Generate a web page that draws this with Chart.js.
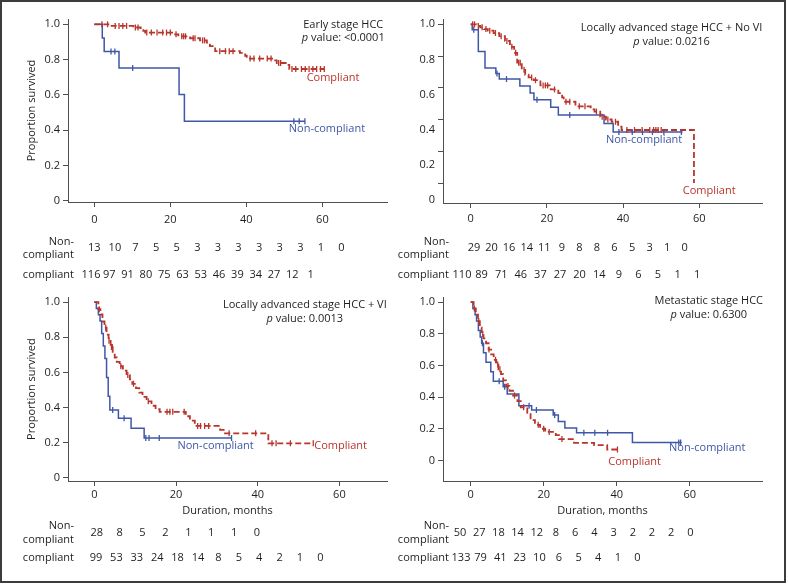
<!DOCTYPE html>
<html lang="en">
<head>
<meta charset="UTF-8">
<title>Survival by compliance, four HCC stages</title>
<script src="https://cdn.jsdelivr.net/npm/chart.js@4.4.0/dist/chart.umd.min.js"></script>
<style>
  body { margin: 0; background: #fff; }
  #figure { position: relative; width: 788px; height: 585px; }
  #figure canvas { position: absolute; }
  #frame { position: absolute; left: 0; top: 0; width: 786px; height: 583px; box-sizing: border-box;
           border: 2px solid #3c3c3c; pointer-events: none; }
</style>
</head>
<body>
<div id="figure">
  <canvas id="early" width="394" height="292" style="left:0;top:0"></canvas>
  <canvas id="noVi" width="392" height="292" style="left:394px;top:0"></canvas>
  <canvas id="vi" width="394" height="293" style="left:0;top:292px"></canvas>
  <canvas id="meta" width="392" height="293" style="left:394px;top:292px"></canvas>
  <div id="frame"></div>
</div>
<script>
// shared ticks
const xTicks = [0, 20, 40, 60];
const yTicks = [0, 0.2, 0.4, 0.6, 0.8, 1.0];

// Early stage HCC
const earlyNcTime = [0, 2.1, 2.6, 6.5, 22.3, 23.7, 55.4];
const earlyNcSurv = [1, 0.923, 0.846, 0.752, 0.602, 0.451, 0.451];
const earlyNcCens = [4.4, 5.4, 10.1, 52.5, 53.9, 55.4];
const earlyCTime = [0, 4.2, 10.3, 12.2, 12.9, 13.4, 21.0, 22.1, 25.2, 27.8, 29.6, 30.4, 31.8, 38.3, 39.7, 40.1, 47.1, 48.0, 50.6, 51.3, 60.5];
const earlyCSurv = [1, 0.991, 0.982, 0.973, 0.963, 0.953, 0.943, 0.932, 0.921, 0.909, 0.896, 0.877, 0.848, 0.838, 0.822, 0.806, 0.796, 0.781, 0.770, 0.747, 0.747];
const earlyCCens = [2.0, 3.5, 5.5, 6.5, 7.5, 8.5, 10.8, 11.5, 13.8, 15.0, 16.5, 18.0, 19.0, 20.0, 21.5, 23.0, 23.5, 24.0, 26.0, 26.5, 28.5, 29.0,
                    33.0, 34.5, 35.5, 36.5, 41.0, 42.0, 43.5, 45.5, 46.5, 48.5, 49.0, 52.0, 53.0, 54.5, 55.5, 56.5, 57.5, 58.5, 59.5, 60.5];
const earlyRiskNc = [13, 10, 7, 5, 5, 3, 3, 3, 3, 3, 3, 1, 0];
const earlyRiskC = [116, 97, 91, 80, 75, 63, 53, 46, 39, 34, 27, 12, 1];

// Locally advanced stage HCC + No VI
const noViNcTime = [0, 0.4, 2.0, 3.75, 6.6, 7.5, 12.9, 15.6, 16.6, 21.0, 23.0, 35.0, 37.4, 55.6];
const noViNcSurv = [1, 0.966, 0.828, 0.724, 0.690, 0.655, 0.611, 0.567, 0.524, 0.477, 0.429, 0.375, 0.321, 0.321];
const noViNcCens = [0.8, 6.9, 9.4, 17.4, 26.0, 38.9, 42.4, 45.1, 47.7, 50.7, 55.3];
const noViCTime = [0, 1.5, 2.5, 3.5, 4.5, 6.0, 7.5, 9.0, 10.3, 11.4, 12.2, 13.4, 14.3, 15.2, 16.5, 18.3, 21.0, 23.0, 24.0, 24.4, 27.5, 31.5, 32.5, 34.0, 35.5, 37.0, 38.7, 39.6, 58.6];
const noViCSurv = [1, 0.99, 0.981, 0.97, 0.96, 0.945, 0.925, 0.895, 0.858, 0.82, 0.758, 0.713, 0.682, 0.665, 0.648, 0.615, 0.59, 0.566, 0.54, 0.512, 0.483, 0.464, 0.45, 0.418, 0.40, 0.386, 0.355, 0.334, 0];
const noViCCens = [0.5, 1.0, 2.0, 3.0, 4.0, 5.0, 6.5, 8.0, 9.5, 10.8, 11.8, 12.6, 13.0, 14.0, 16.0, 17.0, 19.0, 19.6, 20.2, 22.0, 25.0, 26.0,
                   28.5, 30.0, 33.0, 34.5, 36.0, 38.0, 41.0, 43.0, 45.0, 47.0, 48.0, 48.6, 49.2, 50.0];
const noViRiskNc = [29, 20, 16, 14, 11, 9, 8, 8, 6, 5, 3, 1, 0];
const noViRiskC = [110, 89, 71, 46, 37, 27, 20, 14, 9, 6, 5, 1, 1];

// Locally advanced stage HCC + VI
const viNcTime = [0, 0.5, 1.0, 1.4, 1.8, 2.2, 2.6, 3.0, 3.4, 3.8, 5.9, 9.0, 12.2, 33.6];
const viNcSurv = [1, 0.964, 0.929, 0.893, 0.821, 0.75, 0.679, 0.571, 0.464, 0.386, 0.338, 0.282, 0.226, 0.226];
const viNcCens = [4.5, 7.3, 12.6, 13.4, 15.9, 33.6];
const viCTime = [0, 1.0, 1.5, 2.0, 2.5, 3.0, 3.5, 4.0, 4.5, 5.0, 5.5, 6.2, 7.0, 7.9, 8.7, 9.3, 10.2, 11.0, 11.8, 12.8, 14.0, 15.0, 16.0, 22.4, 23.4, 24.6, 30.8, 32.0, 42.6, 53.6];
const viCSurv = [1, 0.96, 0.93, 0.89, 0.855, 0.815, 0.78, 0.745, 0.71, 0.685, 0.66, 0.635, 0.61, 0.585, 0.56, 0.535, 0.51, 0.485, 0.46, 0.435, 0.41, 0.39, 0.375, 0.35, 0.325, 0.295, 0.272, 0.253, 0.196, 0.196];
const viCCens = [1.2, 2.8, 3.6, 4.2, 4.4, 6.5, 8.2, 9.6, 13.2, 17.8, 18.5, 19.2, 22.0, 25.3, 26.0, 27.0, 28.0, 33.0, 39.5, 43.5, 44.5, 48.0, 53.6];
const viRiskNc = [28, 8, 5, 2, 1, 1, 1, 0];
const viRiskC = [99, 53, 33, 24, 18, 14, 8, 5, 4, 2, 1, 0];

// Metastatic stage HCC
const metaNcTime = [0, 0.6, 1.2, 1.6, 2.1, 2.6, 3.0, 3.5, 4.2, 5.5, 6.2, 8.9, 10.0, 13.2, 16.7, 22.6, 24.0, 25.8, 29.0, 44.3, 57.8];
const metaNcSurv = [1, 0.96, 0.92, 0.88, 0.82, 0.78, 0.74, 0.68, 0.62, 0.56, 0.50, 0.465, 0.42, 0.345, 0.318, 0.286, 0.246, 0.205, 0.174, 0.113, 0.113];
const metaNcCens = [3.2, 7.8, 9.3, 16.0, 18.0, 23.0, 31.0, 34.0, 37.5, 57.0, 57.5];
const metaCTime = [0, 0.8, 1.4, 2.0, 2.5, 3.0, 3.5, 4.2, 4.9, 5.6, 6.3, 7.0, 7.6, 8.3, 8.9, 9.7, 10.6, 11.6, 12.8, 13.7, 15.5, 16.4, 17.6, 19.0, 20.4, 23.3, 24.2, 28.3, 33.8, 37.4, 40.2];
const metaCSurv = [1, 0.96, 0.92, 0.88, 0.84, 0.80, 0.77, 0.74, 0.70, 0.67, 0.635, 0.605, 0.575, 0.545, 0.505, 0.47, 0.44, 0.41, 0.375, 0.335, 0.30, 0.255, 0.225, 0.20, 0.18, 0.16, 0.135, 0.111, 0.097, 0.069, 0.069];
const metaCCens = [1.0, 2.2, 3.3, 5.0, 6.8, 7.4, 8.0, 10.2, 12.0, 14.5, 18.5, 20.0, 21.5, 25.0, 40.2];
const metaRiskNc = [50, 27, 18, 14, 12, 8, 6, 4, 3, 2, 2, 2, 0];
const metaRiskC = [133, 79, 41, 23, 10, 6, 5, 4, 1, 0];

const RED = '#b8352b';
const BLUE = '#3f57a8';
const INK = '#1e1e1e';
const AXIS = '#505050';
const FONT = '"Open Sans", sans-serif';

Chart.defaults.font.family = FONT;
Chart.defaults.font.size = 11;
Chart.defaults.color = INK;

// value of a KM step curve at time t (for censor marks)
function stepValue(times, surv, t) {
    let s = surv[0];
    for (let i = 0; i < times.length; i++) if (times[i] <= t) s = surv[i];
    return s;
}
const curve = (times, surv) => times.map((t, i) => ({x: t, y: surv[i]}));
const censored = (times, surv, marks) => marks.map(t => ({x: t, y: stepValue(times, surv, t)}));

// titles, curve labels and numbers at risk
const kmText = {
    id: 'kmText',
    afterDraw(chart, args, o) {
        const {ctx, scales: {x, y}} = chart;
        const f = style => `${style} 11px ${FONT}`;
        ctx.save();
        ctx.textBaseline = 'middle';
        ctx.fillStyle = INK;

        ctx.font = f('normal');
        const tw = ctx.measureText(o.title).width;
        const cx = o.titleRight - tw / 2;
        ctx.textAlign = 'center';
        ctx.fillText(o.title, cx, o.titleY);
        ctx.font = f('italic');
        const pw = ctx.measureText('p').width;
        ctx.font = f('normal');
        const rest = ' value: ' + o.p;
        const rw = ctx.measureText(rest).width;
        const px = cx - (pw + rw) / 2;
        ctx.textAlign = 'left';
        ctx.font = f('italic');
        ctx.fillText('p', px, o.pY);
        ctx.font = f('normal');
        ctx.fillText(rest, px + pw, o.pY);

        ctx.textAlign = 'center';
        o.labels.forEach(l => {
            ctx.fillStyle = l.color;
            ctx.fillText(l.text, x.getPixelForValue(l.x), y.getPixelForValue(l.y));
        });

        ctx.fillStyle = INK;
        const r = o.risk;
        ctx.textAlign = 'right';
        ctx.fillText('Non-', r.labelRight, r.nc.y - 6.7);
        ctx.fillText('compliant', r.labelRight, r.nc.y + 6.7);
        ctx.fillText('compliant', r.labelRight, r.c.y);
        ctx.textAlign = 'center';
        [[r.nc, o.riskNc], [r.c, o.riskC]].forEach(([row, vals]) => {
            vals.forEach((v, i) => ctx.fillText(String(v), row.start + i * row.step, row.y));
        });
        ctx.restore();
    }
};

function makePanel(id, p) {
    const axisGrid = {drawOnChartArea: false, drawTicks: true, tickLength: 5, color: AXIS, tickColor: AXIS, tickWidth: 1};
    const scales = {
        x: {
            type: 'linear', min: p.xMin, max: p.xMax,
            afterBuildTicks: s => { s.ticks = xTicks.map(v => ({value: v})); },
            afterFit: s => { s.height = p.xH; s.paddingLeft = 0; s.paddingRight = 0; },
            grid: axisGrid,
            border: {color: AXIS, width: 1},
            ticks: {padding: p.xPad, color: INK, callback: v => String(v)},
            title: {display: !!p.xTitle, text: 'Duration, months', color: INK, padding: {top: 0, bottom: 1}}
        },
        y: {
            type: 'linear', min: p.yMin, max: p.yMax,
            afterBuildTicks: s => { s.ticks = yTicks.map(v => ({value: v})); },
            afterFit: s => { s.width = p.yW; s.paddingTop = 0; s.paddingBottom = 0; },
            grid: axisGrid,
            border: {color: AXIS, width: 1},
            ticks: {display: !p.labelAxis, padding: 3, color: INK, callback: v => v === 0 ? '0' : v.toFixed(1)},
            title: {display: !!p.yTitle, text: 'Proportion survived', color: INK, padding: {top: 7, bottom: 0}}
        }
    };
    if (p.labelAxis) {
        // tick labels of this panel sit on their own spacing in the figure
        scales.yl = {
            type: 'linear', position: 'left', weight: 1, min: p.labelAxis.min, max: p.labelAxis.max,
            afterBuildTicks: s => { s.ticks = yTicks.map(v => ({value: v})); },
            afterFit: s => { s.width = p.labelAxis.w; s.paddingTop = 0; s.paddingBottom = 0; },
            grid: {display: false, drawTicks: false},
            border: {display: false},
            ticks: {padding: 3, color: INK, callback: v => v === 0 ? '0' : v.toFixed(1)}
        };
    }
    const lineDs = (data, color, dash, width) => ({
        type: 'line', data, stepped: true, borderColor: color, borderWidth: width,
        borderDash: dash, pointRadius: 0, fill: false
    });
    const censDs = (data, color) => ({
        type: 'line', data, showLine: false, pointStyle: 'line', rotation: 90, pointRadius: 3,
        pointBorderColor: color, pointBackgroundColor: color, pointBorderWidth: 1.3
    });
    return new Chart(document.getElementById(id), {
        type: 'line',
        data: {
            datasets: [
                lineDs(curve(p.cT, p.cS), RED, [6, 3], 1.8),
                censDs(censored(p.cT, p.cS, p.cC), RED),
                lineDs(curve(p.nT, p.nS), BLUE, [], 1.5),
                censDs(censored(p.nT, p.nS, p.nC), BLUE)
            ]
        },
        options: {
            responsive: false,
            devicePixelRatio: 1,
            animation: false,
            events: [],
            layout: {padding: p.pad},
            scales,
            plugins: {
                legend: {display: false},
                tooltip: {enabled: false},
                kmText: {
                    title: p.title, p: p.pValue, titleRight: p.titleRight, titleY: p.titleY, pY: p.pY,
                    labels: [
                        {text: 'Compliant', color: RED, x: p.cLab[0], y: p.cLab[1]},
                        {text: 'Non-compliant', color: BLUE, x: p.nLab[0], y: p.nLab[1]}
                    ],
                    risk: p.risk, riskNc: p.riskNc, riskC: p.riskC
                }
            }
        },
        plugins: [kmText]
    });
}

makePanel('early', {
    nT: earlyNcTime, nS: earlyNcSurv, nC: earlyNcCens,
    cT: earlyCTime, cS: earlyCSurv, cC: earlyCCens,
    riskNc: earlyRiskNc, riskC: earlyRiskC,
    title: 'Early stage HCC', pValue: '<0.0001',
    xMin: -6.92, xMax: 77.0, yMin: -0.0057, yMax: 1.030,
    pad: {left: 18, right: 7, top: 19, bottom: 60}, yW: 50, xH: 30, xPad: 6,
    yTitle: true, xTitle: false,
    titleRight: 383.3, titleY: 25, pY: 38.3,
    cLab: [62.8, 0.698], nLab: [61.2, 0.407],
    risk: {labelRight: 74, nc: {y: 248.3, start: 94.3, step: 20.6}, c: {y: 275, start: 91, step: 18.3}}
});

makePanel('noVi', {
    nT: noViNcTime, nS: noViNcSurv, nC: noViNcCens,
    cT: noViCTime, cS: noViCSurv, cC: noViCCens,
    riskNc: noViRiskNc, riskC: noViRiskC,
    title: 'Locally advanced stage HCC + No VI', pValue: '0.0216',
    xMin: -7.27, xMax: 76.46, yMin: -0.126, yMax: 1.0334,
    labelAxis: {min: -0.0153, max: 1.030, w: 40},
    pad: {left: 4, right: 24, top: 19, bottom: 59}, yW: 5, xH: 30, xPad: 4,
    yTitle: false, xTitle: false,
    titleRight: 368.3, titleY: 28.3, pY: 42.3,
    cLab: [62.6, -0.05], nLab: [45.5, 0.275],
    risk: {labelRight: 55, nc: {y: 248.3, start: 80, step: 17.56}, c: {y: 275, start: 68, step: 19.6}}
});

makePanel('vi', {
    nT: viNcTime, nS: viNcSurv, nC: viNcCens,
    cT: viCTime, cS: viCSurv, cC: viCCens,
    riskNc: viRiskNc, riskC: viRiskC,
    title: 'Locally advanced stage HCC + VI', pValue: '0.0013',
    xMin: -6.44, xMax: 71.65, yMin: -0.019, yMax: 1.028,
    pad: {left: 18, right: 7, top: 5, bottom: 67}, yW: 50, xH: 37, xPad: 2.5,
    yTitle: true, xTitle: true,
    titleRight: 386.7, titleY: 13, pY: 27,
    cLab: [60.3, 0.182], nLab: [29.7, 0.182],
    risk: {labelRight: 74, nc: {y: 240.7, start: 96.7, step: 22.9}, c: {y: 266.3, start: 96, step: 20.4}}
});

makePanel('meta', {
    nT: metaNcTime, nS: metaNcSurv, nC: metaNcCens,
    cT: metaCTime, cS: metaCSurv, cC: metaCCens,
    riskNc: metaRiskNc, riskC: metaRiskC,
    title: 'Metastatic stage HCC', pValue: '0.6300',
    xMin: -7.59, xMax: 79.8, yMin: -0.13, yMax: 1.03,
    pad: {left: 4, right: 24, top: 5, bottom: 67}, yW: 45, xH: 37, xPad: 2.5,
    yTitle: false, xTitle: true,
    titleRight: 369, titleY: 9, pY: 23,
    cLab: [44.9, -0.009], nLab: [64.8, 0.079],
    risk: {labelRight: 55, nc: {y: 240.7, start: 66, step: 19.2}, c: {y: 266.3, start: 67, step: 19.6}}
});
</script>
</body>
</html>
